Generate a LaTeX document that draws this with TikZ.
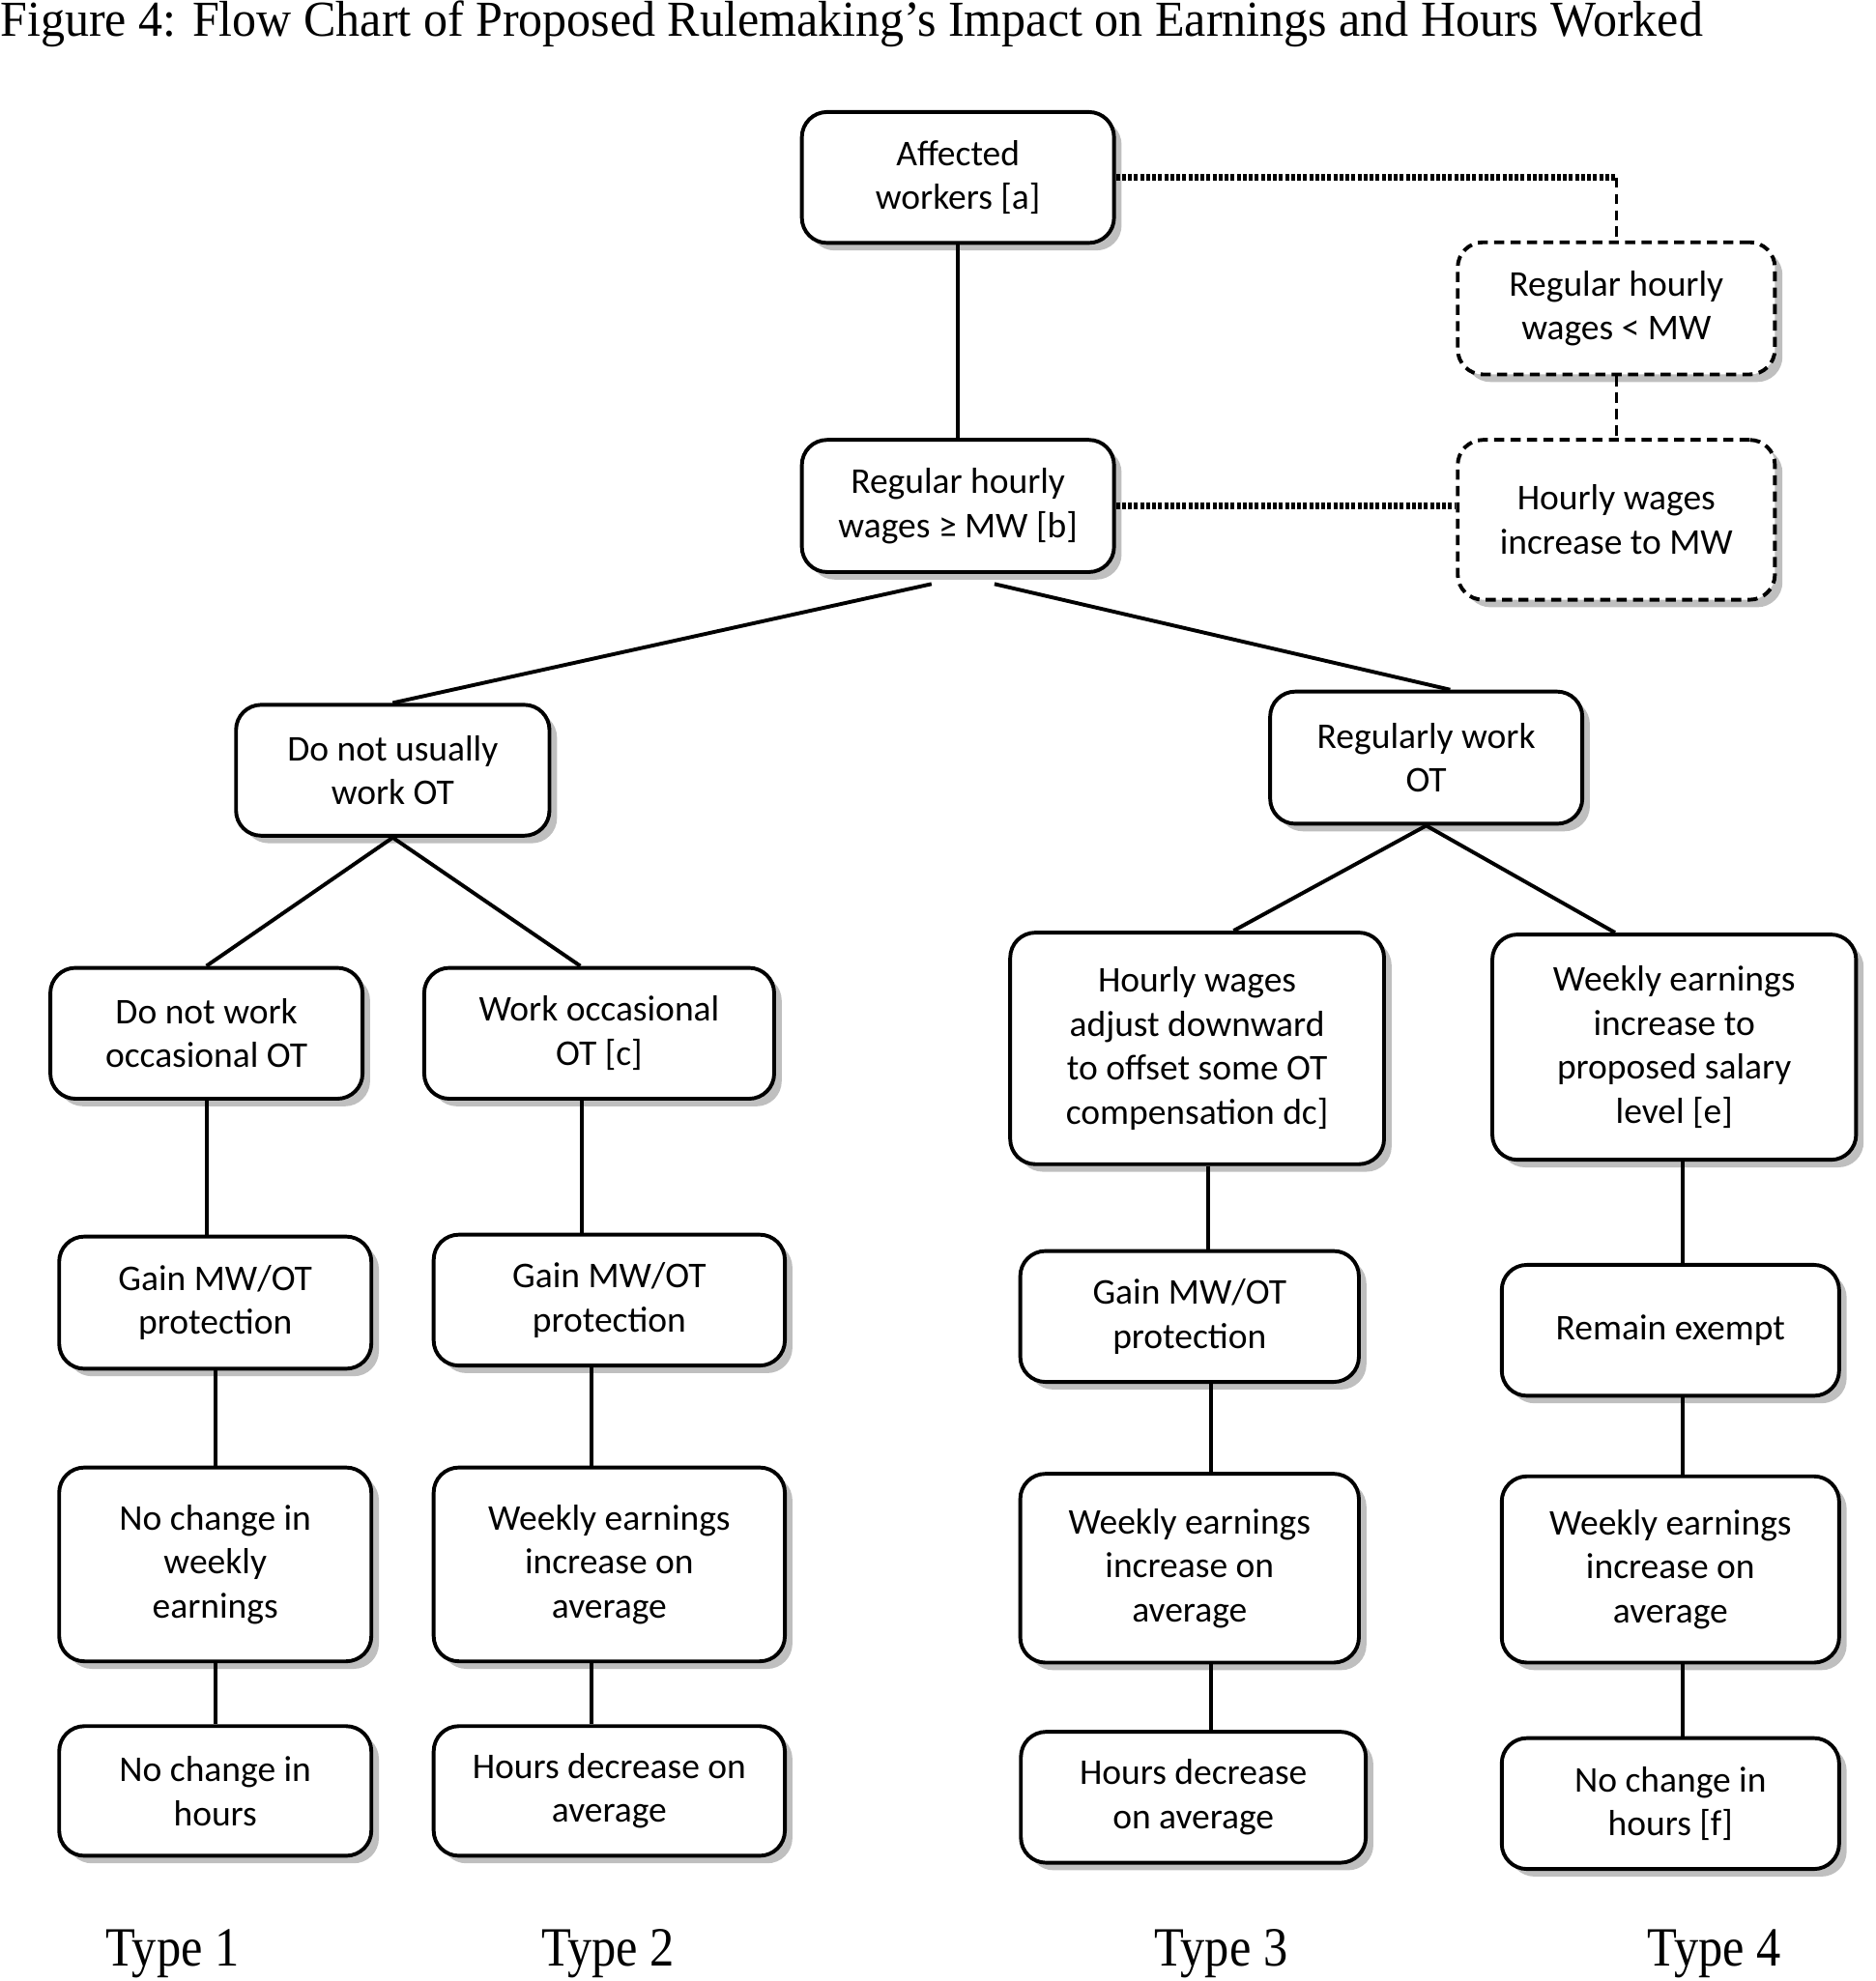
\documentclass[tikz,border=0pt]{standalone}
\usepackage{fontspec}
\setmainfont{Carlito}
\newfontfamily\titlefont[FakeStretch=0.96]{Liberation Serif}
\newfontfamily\typefont[FakeStretch=0.88]{Liberation Serif}
\usetikzlibrary{shadows}
\tikzset{box/.style={
    draw, fill=white, line width=1.5pt, rounded corners=10pt,
    align=center, inner sep=0pt,
    font=\fontsize{14.4}{17.5}\selectfont,
    drop shadow={shadow xshift=3pt, shadow yshift=-3pt, fill=black!50}
  },
  boxsize/.style 2 args={minimum width=#1*0.5pt, minimum height=#2*0.5pt},
  dashbox/.style={box, dash pattern=on 4pt off 2.5pt},
  link/.style={line width=1.5pt},
  dotlink/.style={line width=2.5pt, dash pattern=on 1.5pt off 0.9pt},
  dashlink/.style={line width=1.3pt, dash pattern=on 4pt off 2.5pt},
  typelabel/.style={anchor=base, font=\typefont\fontsize{22}{26}\selectfont}
}

\begin{document}
\begin{tikzpicture}[x=0.5pt, y=-0.5pt]
    \useasboundingbox (0,0) rectangle (1490,1574);

    \node[anchor=base west, inner sep=0pt, font=\titlefont\fontsize{20}{24}\selectfont] (title) at (0,29)
      {Figure 4: Flow Chart of Proposed Rulemaking’s Impact on Earnings and Hours Worked};

    % top of the tree
    \node[box, boxsize={248}{104}] (affected) at (761,141) {Affected\\workers [a]};
    \node[dashbox, boxsize={252}{105}] (below) at (1284,245) {Regular hourly\\wages < MW};
    \node[box, boxsize={248}{105}] (above) at (761,402) {Regular hourly\\wages ≥ MW [b]};
    \node[dashbox, boxsize={252}{127}] (raise) at (1284,413) {Hourly wages\\increase to MW};
    \node[box, boxsize={249}{104}] (noot) at (312,612) {Do not usually\\work OT};
    \node[box, boxsize={248}{105}] (regot) at (1133,602) {Regularly work\\OT};

    % Type 1 .. Type 4 columns
    \node[box, boxsize={248}{104}] (occ1) at (164,821) {Do not work\\occasional OT};
    \node[box, boxsize={278}{104}] (occ2) at (476,821) {Work occasional\\OT [c]};
    \node[box, boxsize={297}{184}] (occ3) at (951,833) {Hourly wages\\adjust downward\\to offset some OT\\compensation dc]};
    \node[box, boxsize={289}{179}] (occ4) at (1330,832) {Weekly earnings\\increase to\\proposed salary\\level [e]};

    \node[box, boxsize={248}{105}] (gain1) at (171,1035) {Gain MW/OT\\protection};
    \node[box, boxsize={279}{104}] (gain2) at (484,1033) {Gain MW/OT\\protection};
    \node[box, boxsize={269}{104}] (gain3) at (945,1046) {Gain MW/OT\\protection};
    \node[box, boxsize={268}{104}] (gain4) at (1327,1057) {Remain exempt};

    \node[box, boxsize={248}{154}] (earn1) at (171,1243) {No change in\\weekly\\earnings};
    \node[box, boxsize={279}{154}] (earn2) at (484,1243) {Weekly earnings\\increase on\\average};
    \node[box, boxsize={269}{150}] (earn3) at (945,1246) {Weekly earnings\\increase on\\average};
    \node[box, boxsize={268}{148}] (earn4) at (1327,1247) {Weekly earnings\\increase on\\average};

    \node[box, boxsize={248}{103}] (hours1) at (171,1423) {No change in\\hours};
    \node[box, boxsize={279}{103}] (hours2) at (484,1423) {Hours decrease on\\average};
    \node[box, boxsize={274}{104}] (hours3) at (948,1428) {Hours decrease\\on average};
    \node[box, boxsize={268}{104}] (hours4) at (1327,1433) {No change in\\hours [f]};

    \node[typelabel] (type1) at (137,1562) {Type 1};
    \node[typelabel] (type2) at (483,1562) {Type 2};
    \node[typelabel] (type3) at (970,1562) {Type 3};
    \node[typelabel] (type4) at (1362,1562) {Type 4};

    % connectors
    \draw[link] (affected) -- (above);
    \draw[dotlink] (affected.east) -- (affected.east -| below.north);
    \draw[dashlink] (affected.east -| below.north) -- (below.north);
    \draw[dashlink] (below) -- (raise);
    \draw[dotlink] (above.east) -- (above.east -| raise.west);

    \draw[link] ([xshift=-10.5pt,yshift=-4pt]above.south) -- (noot.north);
    \draw[link] ([xshift=14.5pt,yshift=-4pt]above.south) -- ([xshift=9.5pt]regot.north);
    \draw[link] (occ1.north) -- (noot.south) -- ([xshift=-7.5pt]occ2.north);
    \draw[link] ([xshift=14.5pt]occ3.north) -- (regot.south) -- ([xshift=-23.5pt]occ4.north);

    \draw[link] (occ1.south) -- (occ1.south |- gain1.north);
    \draw[link] ([xshift=-7pt]occ2.south) -- ([xshift=-7pt]occ2.south |- gain2.north);
    \draw[link] ([xshift=4.5pt]occ3.south) -- ([xshift=4.5pt]occ3.south |- gain3.north);
    \draw[link] ([xshift=3.5pt]occ4.south) -- ([xshift=3.5pt]occ4.south |- gain4.north);

    \foreach \col/\dx in {1/0pt, 2/-7pt, 3/8.5pt, 4/5pt} {
      \draw[link] ([xshift=\dx]gain\col.south) -- ([xshift=\dx]gain\col.south |- earn\col.north);
      \draw[link] ([xshift=\dx]earn\col.south) -- ([xshift=\dx]earn\col.south |- hours\col.north);
    }
\end{tikzpicture}
\end{document}
